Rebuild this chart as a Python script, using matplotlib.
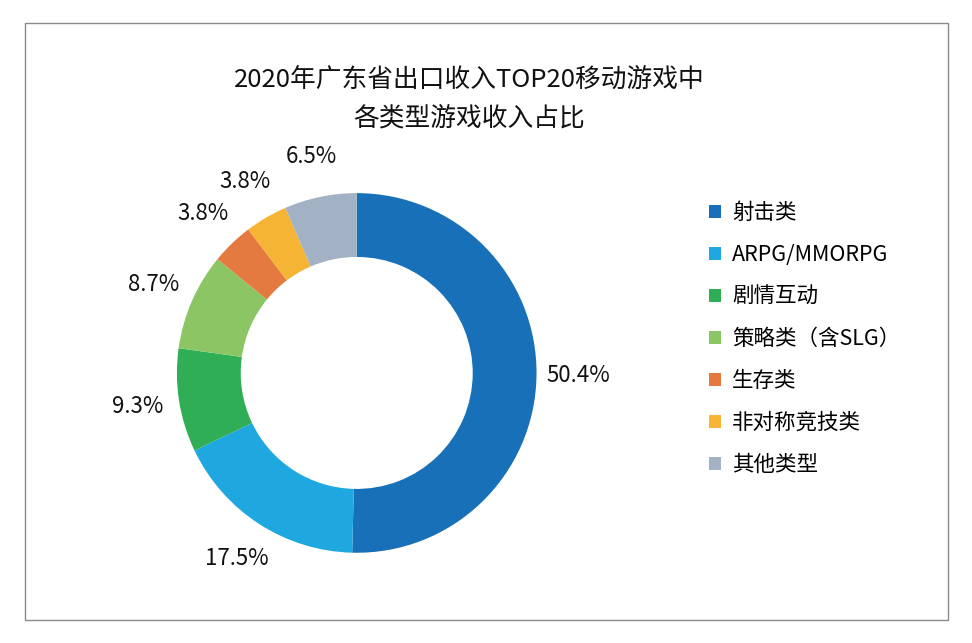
import matplotlib
matplotlib.use('Agg')
import matplotlib.pyplot as plt
from matplotlib.patches import Rectangle, Patch

plt.rcParams['font.family'] = ['Noto Sans CJK SC', 'DejaVu Sans']

# --- data ---
categories = ['射击类', 'ARPG/MMORPG', '剧情互动', '策略类（含SLG）', '生存类', '非对称竞技类', '其他类型']
shares = [50.4, 17.5, 9.3, 8.7, 3.8, 3.8, 6.5]
colors = ['#1770B8', '#1FA8E0', '#2FAE55', '#8CC563', '#E57A40', '#F5B433', '#A2B1C4']

fig = plt.figure(figsize=(9.72, 6.43), dpi=100)

# outer frame
fig.patches.append(Rectangle((25 / 972, 23 / 643), 923 / 972, 597 / 643,
                             transform=fig.transFigure, fill=False,
                             edgecolor='#8a8a8a', linewidth=1.0))

ax = fig.add_axes([0.367 - 0.185, 0.42 - 0.28, 0.37, 0.56])
wedges, texts, autotexts = ax.pie(
    shares, colors=colors, startangle=90, counterclock=False,
    autopct='%.1f%%', pctdistance=1.23, radius=1.0,
    wedgeprops=dict(width=0.355, edgecolor='none'),
)
for t in autotexts:
    t.set_fontsize(16)
    t.set_color('#111111')
ax.set_xlim(-1, 1)
ax.set_ylim(-1, 1)
ax.set_aspect('equal')

fig.text(0.483, 0.876, '2020年广东省出口收入TOP20移动游戏中', ha='center', va='center',
         fontsize=18.5, color='#111111')
fig.text(0.483, 0.815, '各类型游戏收入占比', ha='center', va='center',
         fontsize=18.5, color='#111111')

handles = [Patch(facecolor=c, edgecolor='none', label=l) for c, l in zip(colors, categories)]
fig.legend(handles=handles, loc='upper left', bbox_to_anchor=(0.71, 0.716),
           frameon=False, fontsize=15.5, handlelength=0.55, handleheight=0.55,
           handletextpad=0.5, labelspacing=0.93)

plt.savefig('out.png', dpi=100)
